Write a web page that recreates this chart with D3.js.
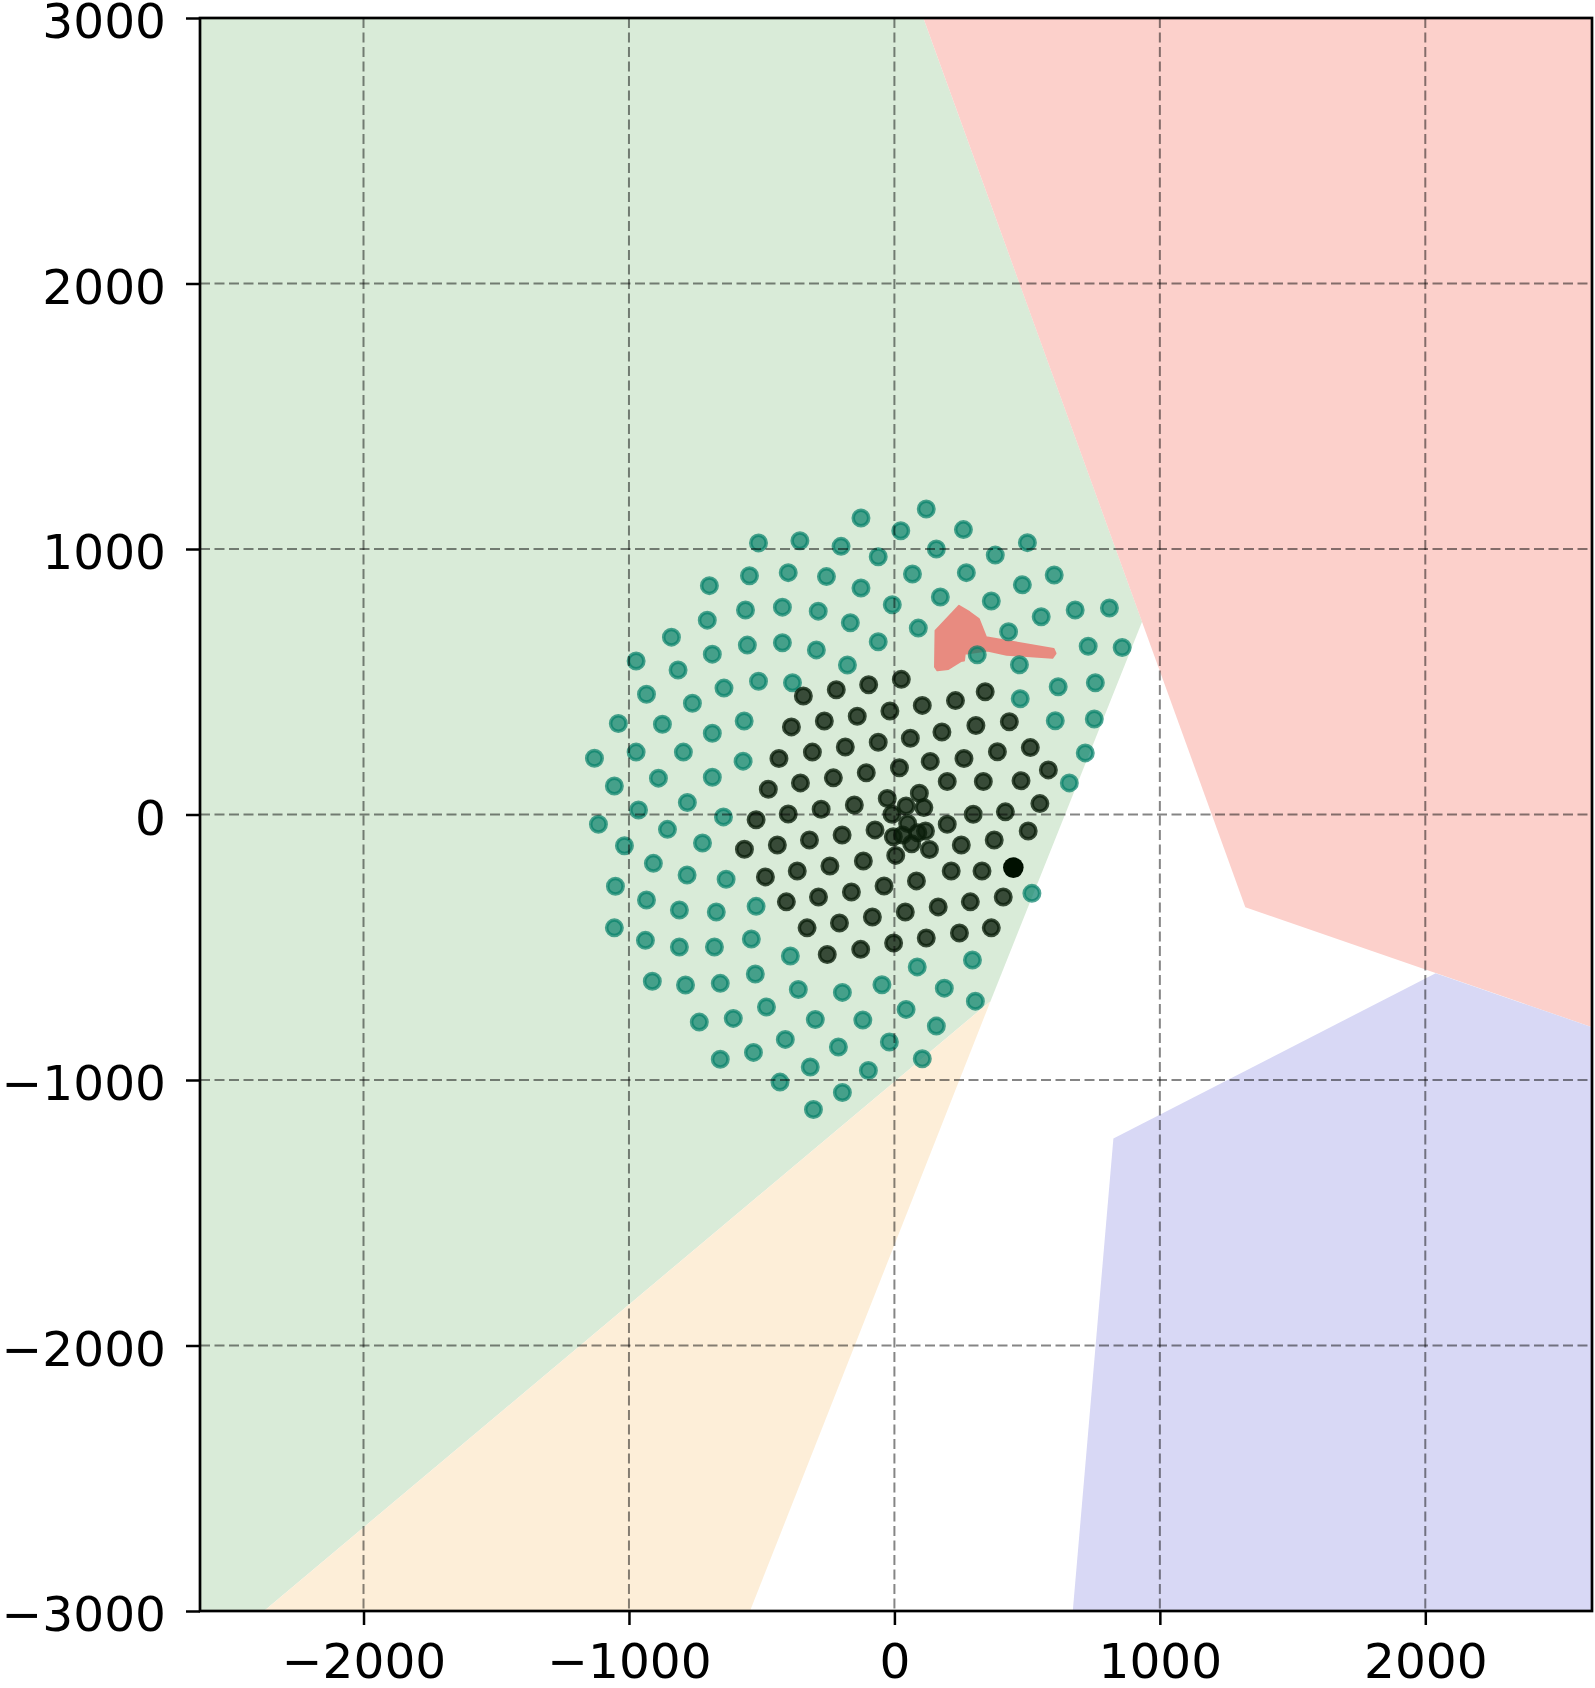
<!DOCTYPE html>
<html>
<head>
<meta charset="utf-8">
<script src="https://cdn.jsdelivr.net/npm/d3@7"></script>
<style>
  html, body { margin: 0; padding: 0; background: #ffffff; }
  svg { display: block; }
</style>
</head>
<body>
<script>
// ---------------- data (data units) ----------------
const xTicks = [-2000, -1000, 0, 1000, 2000];
const yTicks = [-3000, -2000, -1000, 0, 1000, 2000, 3000];
const xLimits = [-2616, 2628];
const yLimits = [-3000, 3000];

// background regions
const greenRegion  = [[-2616, 3000], [109, 3000], [933, 726], [362, -703], [-2375, -3000], [-2616, -3000]];
const orangeRegion = [[362, -703], [-2375, -3000], [-544, -3000]];
const redRegion    = [[109, 3000], [2628, 3000], [2628, -801], [1322, -349]];
const blueRegion   = [[825, -1220], [2039, -598], [2628, -801], [2628, -3000], [672, -3000]];

// salmon shape
const redShape = [[243, 786], [283, 762], [318, 736], [345, 668], [600, 623], [607, 607], [595, 590],
  [423, 602], [350, 618], [265, 605], [262, 580], [250, 578], [203, 548], [162, 543], [153, 556], [155, 692]];

// teal points
const tealPoints = [
  [-126,1117],[-512,1023],[-356,1031],[-201,1010],[-697,862],[-546,899],[-400,911],[-256,896],[-126,853],
  [-705,732],[-561,770],[-422,781],[-287,766],[-166,722],[-840,668],[-686,604],[-554,638],[-422,647],
  [-294,620],[-177,563],[-973,578],[-815,544],[-642,476],[-512,502],[-384,496],[-934,453],[-761,419],
  [-1040,343],[-874,340],[-686,306],[-566,352],[-1130,212],[-973,235],[-795,235],[-570,201],[-1055,107],
  [-889,137],[-686,140],
  [120,1151],[24,1069],[260,1073],[501,1024],[158,1000],[-61,971],[380,977],[68,906],[271,911],[482,865],
  [602,902],[173,819],[365,804],[-8,790],[553,745],[681,770],[810,778],[90,702],[-61,651],[430,688],
  [730,634],[858,629],[312,602],[471,564],[617,481],[757,496],[474,436],[606,353],[753,360],[719,232],
  [659,119],
  [-1115,-37],[-964,17],[-780,45],[-855,-56],[-644,-9],[-1017,-118],[-723,-107],[-908,-184],[-781,-228],
  [-634,-244],[-1051,-270],[-934,-322],[-810,-360],[-671,-367],[-521,-346],[-1055,-427],[-938,-474],
  [-810,-499],[-678,-499],[-539,-469],[-392,-533],[-912,-628],[-787,-642],[-656,-636],[-524,-601],
  [-362,-659],[-196,-670],[-735,-782],[-607,-768],[-482,-725],[-298,-772],[-119,-774],[-411,-847],
  [-211,-876],[-656,-922],[-531,-896],[-317,-951],[-98,-964],[-431,-1008],[-196,-1047],[-305,-1111],
  [518,-297],[294,-548],[86,-574],[-47,-641],[188,-654],[305,-703],[44,-734],[158,-797],[-19,-857],[105,-920]
];

// dark points
const darkPoints = [
  [-343,446],[-219,470],[-97,489],[-388,330],[-264,352],[-140,370],[-435,211],[-309,235],[-185,254],
  [-475,95],[-354,119],[-230,138],[-106,157],
  [26,509],[342,462],[230,429],[105,411],[-17,390],[433,349],[307,335],[179,311],[60,287],[-61,272],
  [512,252],[388,236],[262,211],[135,200],[19,176],[580,168],[477,127],[335,124],[199,124],
  [-521,-20],[-400,2],[-276,20],[-151,36],[-565,-131],[-441,-115],[-320,-96],[-197,-77],[-73,-58],
  [-486,-235],[-366,-213],[-243,-194],[-117,-175],[-407,-329],[-286,-311],[-162,-292],[-83,-386],
  [-329,-427],[-207,-409],[-253,-527],[-127,-508],
  [297,1],[418,10],[548,41],[199,-37],[504,-62],[376,-96],[252,-115],[330,-213],[214,-213],[83,-250],
  [-39,-269],[410,-311],[286,-329],[165,-348],[41,-367],[365,-427],[245,-446],[120,-465],[-3,-484],
  [-27,60],[94,80],[44,32],[111,26],[-9,1],[50,-34],[117,-62],[-4,-84],[31,-77],[88,-69],[65,-110],
  [132,-132],[5,-154]
];

// solid target point
const targetPoint = [[448, -200]];

// ---------------- drawing ----------------
const W = 1595, H = 1688;
const plot = { left: 200, right: 1592, top: 18, bottom: 1611 };

const x = d3.scaleLinear().domain(xLimits).range([plot.left, plot.right]);
const y = d3.scaleLinear().domain(yLimits).range([plot.bottom, plot.top]);

const svg = d3.select("body").append("svg")
  .attr("width", W).attr("height", H)
  .style("font-family", "'DejaVu Sans', sans-serif");

svg.append("rect").attr("width", W).attr("height", H).attr("fill", "#ffffff");

svg.append("clipPath").attr("id", "clip")
  .append("rect")
  .attr("x", plot.left).attr("y", plot.top)
  .attr("width", plot.right - plot.left).attr("height", plot.bottom - plot.top);

const g = svg.append("g").attr("clip-path", "url(#clip)");
const line = d3.line().x(d => x(d[0])).y(d => y(d[1]));
const poly = pts => line(pts) + "Z";

const regions = [
  { pts: greenRegion,  color: "#d9ebd8" },
  { pts: orangeRegion, color: "#fdeed8" },
  { pts: redRegion,    color: "#fcd0cb" },
  { pts: blueRegion,   color: "#d8d8f5" }
];
g.selectAll("path.region").data(regions).join("path")
  .attr("class", "region")
  .attr("d", d => poly(d.pts))
  .attr("fill", d => d.color)
  .attr("stroke", "none");

g.append("path")
  .attr("d", poly(redShape))
  .attr("fill", "#e88b80")
  .attr("stroke", "#e88b80")
  .attr("stroke-width", 2)
  .attr("stroke-linejoin", "round");

const R = 7.75, SW = 3.5;
g.selectAll("circle.teal").data(tealPoints).join("circle")
  .attr("class", "teal")
  .attr("cx", d => x(d[0])).attr("cy", d => y(d[1])).attr("r", R)
  .attr("fill", "#06806a").attr("fill-opacity", 0.7)
  .attr("stroke", "#06806a").attr("stroke-opacity", 0.7)
  .attr("stroke-width", SW);

g.selectAll("circle.dark").data(darkPoints).join("circle")
  .attr("class", "dark")
  .attr("cx", d => x(d[0])).attr("cy", d => y(d[1])).attr("r", R)
  .attr("fill", "#0a1e0a").attr("fill-opacity", 0.78)
  .attr("stroke", "#0a1e0a").attr("stroke-opacity", 0.78)
  .attr("stroke-width", SW);

g.selectAll("circle.target").data(targetPoint).join("circle")
  .attr("class", "target")
  .attr("cx", d => x(d[0])).attr("cy", d => y(d[1])).attr("r", 10.3)
  .attr("fill", "#001000");

// grid (drawn above the markers, as in the reference)
const grid = svg.append("g").attr("clip-path", "url(#clip)")
  .attr("stroke", "#000").attr("stroke-opacity", 0.48)
  .attr("stroke-width", 2).attr("stroke-dasharray", "10,4.5");
grid.selectAll("line.vx").data(xTicks).join("line")
  .attr("x1", d => x(d)).attr("x2", d => x(d))
  .attr("y1", plot.top).attr("y2", plot.bottom);
grid.selectAll("line.hy").data(yTicks).join("line")
  .attr("y1", d => y(d)).attr("y2", d => y(d))
  .attr("x1", plot.left).attr("x2", plot.right);

// axes
const fmt = d3.format("d");
const xAxis = svg.append("g")
  .attr("transform", `translate(0,${plot.bottom})`)
  .call(d3.axisBottom(x).tickValues(xTicks).tickSize(14).tickFormat(fmt));
const yAxis = svg.append("g")
  .attr("transform", `translate(${plot.left},0)`)
  .call(d3.axisLeft(y).tickValues(yTicks).tickSize(14).tickFormat(fmt));

[xAxis, yAxis].forEach(a => {
  a.select(".domain").remove();
  a.selectAll(".tick line").attr("stroke", "#000").attr("stroke-width", 2.5);
  a.selectAll(".tick text")
    .attr("fill", "#000")
    .style("font-size", "48.6px")
    .style("font-family", "'DejaVu Sans', sans-serif");
});
xAxis.selectAll(".tick text").attr("y", 67).attr("dy", 0);
yAxis.selectAll(".tick text").attr("x", -34).attr("dy", "0.405em");

// spines
svg.append("rect")
  .attr("x", plot.left).attr("y", plot.top)
  .attr("width", plot.right - plot.left).attr("height", plot.bottom - plot.top)
  .attr("fill", "none").attr("stroke", "#000").attr("stroke-width", 2.7);
</script>
</body>
</html>
